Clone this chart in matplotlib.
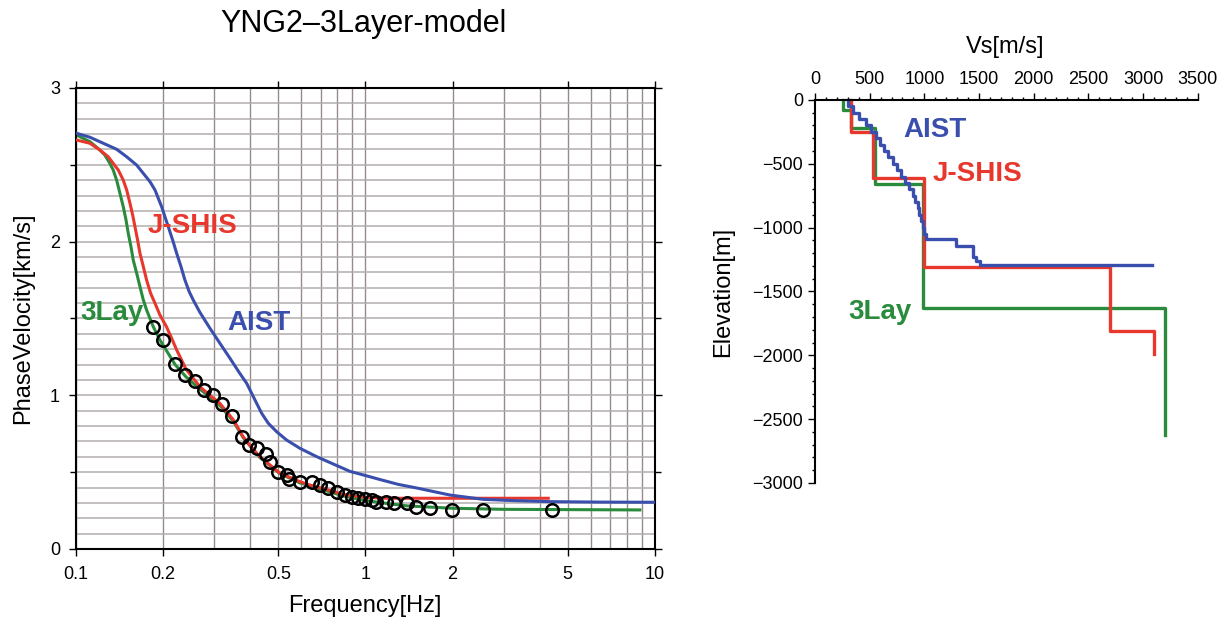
import matplotlib

matplotlib.use("Agg")
import matplotlib.pyplot as plt
import numpy as np
from matplotlib.ticker import FixedLocator, MultipleLocator

plt.rcParams["font.family"] = ["Liberation Sans", "DejaVu Sans"]

BLUE = "#3a4fad"
RED = "#e8372c"
GREEN = "#2a8b3c"

# observed phase velocities (circles)
obs_freq = [0.185, 0.200, 0.219, 0.238, 0.258, 0.277, 0.298, 0.319, 0.347, 0.375,
            0.396, 0.421, 0.452, 0.468, 0.500, 0.535, 0.546, 0.594, 0.652, 0.697,
            0.744, 0.795, 0.849, 0.896, 0.944, 0.995, 1.05, 1.09, 1.18, 1.26,
            1.39, 1.49, 1.67, 1.99, 2.55, 4.42]
obs_vel = [1.446, 1.360, 1.202, 1.132, 1.095, 1.034, 1.002, 0.941, 0.865, 0.731,
           0.677, 0.655, 0.618, 0.568, 0.503, 0.481, 0.453, 0.438, 0.438, 0.416,
           0.395, 0.373, 0.351, 0.340, 0.330, 0.323, 0.319, 0.308, 0.308, 0.297,
           0.297, 0.275, 0.269, 0.254, 0.254, 0.254]

# theoretical dispersion curves
aist_freq = [0.1006, 0.1118, 0.1243, 0.1382, 0.1497, 0.1621, 0.1709, 0.1802, 0.1875,
             0.1925, 0.1977, 0.2029, 0.2084, 0.2158, 0.2228, 0.2306, 0.2379, 0.2462,
             0.2542, 0.268, 0.2903, 0.3144, 0.3404, 0.368, 0.3888, 0.4045, 0.4209,
             0.438, 0.4617, 0.4935, 0.534, 0.594, 0.678, 0.774, 0.884, 1.0, 1.122,
             1.3, 1.503, 1.958, 2.552, 3.33, 4.34, 6.5, 9.9]
aist_vel = [2.705, 2.679, 2.640, 2.601, 2.552, 2.498, 2.444, 2.390, 2.336,
            2.282, 2.227, 2.162, 2.097, 2.010, 1.924, 1.837, 1.750, 1.674,
            1.620, 1.540, 1.436, 1.338, 1.241, 1.143, 1.078, 1.013, 0.948,
            0.883, 0.818, 0.763, 0.709, 0.655, 0.601, 0.553, 0.505, 0.478, 0.452,
            0.420, 0.397, 0.351, 0.323, 0.314, 0.308, 0.305, 0.304]

jshis_freq = [0.1006, 0.1118, 0.1210, 0.1293, 0.1345, 0.1400, 0.1457, 0.1497, 0.1537,
              0.1570, 0.1599, 0.1633, 0.1664, 0.1709, 0.1754, 0.1811, 0.1875, 0.1951,
              0.2055, 0.2141, 0.2228, 0.240, 0.268, 0.290, 0.314, 0.350, 0.378, 0.400,
              0.432, 0.507, 0.594, 0.643, 0.740, 0.838, 1.0, 1.2, 1.4, 4.28]
jshis_vel = [2.661, 2.640, 2.596, 2.552, 2.509, 2.466, 2.400, 2.336, 2.249,
             2.173, 2.097, 2.010, 1.924, 1.837, 1.750, 1.664, 1.599, 1.522,
             1.446, 1.371, 1.295, 1.170, 1.056, 1.000, 0.948, 0.839, 0.731, 0.670,
             0.600, 0.493, 0.438, 0.416, 0.385, 0.355, 0.335, 0.330, 0.330, 0.330]

lay3_freq = [0.1006, 0.1118, 0.1210, 0.1259, 0.1310, 0.1345, 0.1382, 0.1419, 0.1457,
             0.1489, 0.1516, 0.1549, 0.1577, 0.1621, 0.1664, 0.1709, 0.1754, 0.185,
             0.195, 0.220, 0.240, 0.268, 0.314, 0.350, 0.378, 0.432, 0.507, 0.594,
             0.700, 0.840, 1.0, 1.2, 1.4, 2.0, 3.0, 8.87]
lay3_vel = [2.693, 2.650, 2.596, 2.563, 2.509, 2.466, 2.400, 2.314, 2.227,
            2.141, 2.054, 1.967, 1.880, 1.794, 1.707, 1.620, 1.555, 1.446,
            1.360, 1.200, 1.120, 1.040, 0.935, 0.830, 0.725, 0.595, 0.490, 0.430,
            0.390, 0.345, 0.315, 0.295, 0.280, 0.265, 0.258, 0.254]

# Vs profiles: layer velocity [m/s], layer top depth [m], bottom depth [m]
aist_vs = [304, 349, 405, 468, 510, 555, 590, 628, 665, 715, 750, 787, 822, 858,
           895, 915, 938, 952, 968, 983, 995, 1012, 1292, 1443, 1475, 1504, 3084]
aist_top = [0, 50, 100, 150, 200, 250, 300, 350, 400, 450, 500, 550, 600, 650,
            700, 750, 800, 850, 900, 950, 1000, 1050, 1091, 1140, 1230, 1260, 1295]
aist_bottom = 1295

jshis_vs = [334, 532, 996, 2695, 3099]
jshis_top = [0, 254, 615, 1310, 1811]
jshis_bottom = 1986

lay3_vs = [258, 334, 547, 990, 3199]
lay3_top = [0, 78, 220, 662, 1633]
lay3_bottom = 2626


def profile_path(vs, tops, bottom):
    xs, ys = [], []
    for i, v in enumerate(vs):
        bot = tops[i + 1] if i + 1 < len(tops) else bottom
        xs += [v, v]
        ys += [-tops[i], -bot]
    return xs, ys


fig = plt.figure(figsize=(12.29, 6.22), dpi=100)

# ---- dispersion curves ----
ax = fig.add_axes([0.0618, 0.1174, 0.4711, 0.7412])
ax.set_xscale("log")
ax.set_xlim(0.1, 10)
ax.set_ylim(0, 3)

grid_x = np.concatenate([np.arange(0.1, 1.0, 0.1), np.arange(1, 11, 1)])
for gx in grid_x:
    ax.axvline(gx, color="#958b8b", linewidth=1.0, zorder=0)
for gy in np.arange(0.1, 3.0, 0.1):
    ax.axhline(gy, color="#b3adad", linewidth=1.1, zorder=0)

ax.plot(lay3_freq, lay3_vel, color=GREEN, linewidth=2.2, zorder=2)
ax.plot(jshis_freq, jshis_vel, color=RED, linewidth=2.2, zorder=3)
ax.plot(aist_freq, aist_vel, color=BLUE, linewidth=2.2, zorder=3)
ax.plot(obs_freq, obs_vel, linestyle="none", marker="o", markersize=9,
        markerfacecolor="none", markeredgecolor="black", markeredgewidth=1.8, zorder=4)

ax.text(0.2536, 2.10, "J-SHIS", color=RED, fontsize=20, fontweight="bold",
        ha="center", va="center")
ax.text(0.428, 1.47, "AIST", color=BLUE, fontsize=20, fontweight="bold",
        ha="center", va="center")
ax.text(0.133, 1.535, "3Lay", color=GREEN, fontsize=20, fontweight="bold",
        ha="center", va="center")

ax.xaxis.set_major_locator(FixedLocator([0.1, 0.2, 0.5, 1, 2, 5, 10]))
ax.xaxis.set_minor_locator(FixedLocator([]))
ax.set_xticklabels(["0.1", "0.2", "0.5", "1", "2", "5", "10"])
ax.yaxis.set_major_locator(MultipleLocator(1))
ax.yaxis.set_minor_locator(MultipleLocator(0.5))
ax.tick_params(which="both", direction="out", top=True, right=True,
               labelsize=13, width=1.0)
ax.tick_params(which="major", length=5)
ax.tick_params(which="minor", length=4)
ax.tick_params(axis="x", pad=7.5)
ax.tick_params(axis="y", pad=6.5)
for sp in ax.spines.values():
    sp.set_linewidth(1.5)
ax.set_xlabel("Frequency[Hz]", fontsize=17)
ax.set_ylabel("PhaseVelocity[km/s]", fontsize=17)
ax.xaxis.set_label_coords(0.499, -0.10)
ax.yaxis.set_label_coords(-0.072, 0.5)

fig.text(363 / 1229, 1 - 24 / 622, "YNG2\u20133Layer-model", fontsize=22,
         ha="center", va="center")

# ---- Vs profiles ----
ax2 = fig.add_axes([0.6631, 0.2235, 0.3116, 0.6158])
ax2.set_xlim(0, 3500)
ax2.set_ylim(-3000, 0)
x, y = profile_path(lay3_vs, lay3_top, lay3_bottom)
ax2.plot(x, y, color=GREEN, linewidth=2.4, clip_on=False)
x, y = profile_path(jshis_vs, jshis_top, jshis_bottom)
ax2.plot(x, y, color=RED, linewidth=2.4, clip_on=False)
x, y = profile_path(aist_vs, aist_top, aist_bottom)
ax2.plot(x, y, color=BLUE, linewidth=2.4, clip_on=False)

ax2.text(1094, -234, "AIST", color=BLUE, fontsize=20, fontweight="bold",
         ha="center", va="center")
ax2.text(1486, -577, "J-SHIS", color=RED, fontsize=20, fontweight="bold",
         ha="center", va="center")
ax2.text(592, -1659, "3Lay", color=GREEN, fontsize=20, fontweight="bold",
         ha="center", va="center")

ax2.spines["right"].set_visible(False)
ax2.spines["bottom"].set_visible(False)
ax2.spines["left"].set_linewidth(1.5)
ax2.spines["top"].set_linewidth(1.5)
ax2.xaxis.tick_top()
ax2.xaxis.set_label_position("top")
ax2.xaxis.set_major_locator(MultipleLocator(500))
ax2.xaxis.set_minor_locator(MultipleLocator(100))
ax2.yaxis.set_major_locator(MultipleLocator(500))
ax2.yaxis.set_minor_locator(MultipleLocator(100))
ax2.tick_params(which="both", direction="out", labelsize=13, width=1.0)
ax2.tick_params(which="major", length=5)
ax2.tick_params(which="minor", length=2.5)
ax2.set_xlabel("Vs[m/s]", fontsize=17)
ax2.set_ylabel("Elevation[m]", fontsize=17)
ax2.xaxis.set_label_coords(0.496, 1.123)
ax2.yaxis.set_label_coords(-0.212, 0.5)

fig.savefig("out.png", dpi=100)
plt.close(fig)
